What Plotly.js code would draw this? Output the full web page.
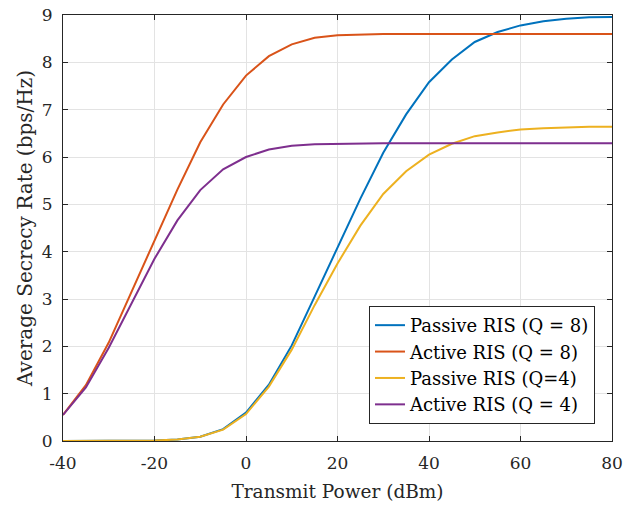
<!DOCTYPE html>
<html>
<head>
<meta charset="utf-8">
<script src="https://cdn.plot.ly/plotly-3.0.1.min.js"></script>
<style>html,body{margin:0;padding:0;background:#fff;}#chart{width:636px;height:508px;}</style>
</head>
<body>
<div id="chart"></div>
<script>
// Transmit power (dBm)
const power = [-40,-35,-30,-25,-20,-15,-10,-5,0,5,10,15,20,25,30,35,40,45,50,55,60,65,70,75,80];
// Average secrecy rate (bps/Hz)
const passiveQ8 = [0.0,0.0,0.0,0.0,0.01,0.03,0.09,0.25,0.6,1.19,2.02,3.05,4.07,5.12,6.09,6.9,7.58,8.06,8.43,8.64,8.78,8.87,8.92,8.95,8.96];
const activeQ8  = [0.55,1.18,2.08,3.15,4.22,5.31,6.31,7.11,7.72,8.13,8.38,8.52,8.57,8.59,8.6,8.6,8.6,8.6,8.6,8.6,8.6,8.6,8.6,8.6,8.6];
const passiveQ4 = [0.0,0.0,0.0,0.0,0.01,0.03,0.09,0.24,0.57,1.15,1.93,2.87,3.75,4.55,5.22,5.7,6.05,6.28,6.44,6.52,6.58,6.61,6.63,6.64,6.64];
const activeQ4  = [0.55,1.13,1.97,2.9,3.85,4.66,5.3,5.74,6.0,6.16,6.24,6.27,6.28,6.29,6.29,6.29,6.29,6.29,6.29,6.29,6.29,6.29,6.29,6.29,6.29];
const seriesNames = ['Passive RIS (Q = 8)','Active RIS (Q = 8)','Passive RIS (Q=4)','Active RIS (Q = 4)'];
const xTickVals = [-40,-20,0,20,40,60,80];
const xTickText = ['-40','-20','0','20','40','60','80'];
const yTickVals = [0,1,2,3,4,5,6,7,8,9];
const yTickText = ['0','1','2','3','4','5','6','7','8','9'];

const colors = ['#0072BD','#D95319','#EDB120','#7E2F8E'];
const ys = [passiveQ8, activeQ8, passiveQ4, activeQ4];
const traces = ys.map((y,i)=>({
  x: power, y: y, type:'scatter', mode:'lines', name: seriesNames[i],
  line:{color:colors[i], width:2}
}));

const font = 'DejaVu Serif';
const axisCommon = {
  showline:true, linecolor:'#262626', linewidth:1, mirror:'ticks',
  ticks:'inside', ticklen:5, tickcolor:'#262626', tickwidth:1,
  showgrid:true, gridcolor:'#e3e3e3', gridwidth:1, zeroline:false,
  tickfont:{family:font, size:17, color:'#262626'}
};
const layout = {
  width:636, height:508,
  font:{family:font},
  margin:{l:63, r:24, t:15, b:67},
  paper_bgcolor:'#fff', plot_bgcolor:'#fff',
  showlegend:true,
  xaxis: Object.assign({}, axisCommon, {
    range:[-40,80], tickmode:'array', tickvals:xTickVals, ticktext:xTickText,
    ticklabelstandoff:7,
    title:{text:'Transmit Power (dBm)', font:{family:font, size:18.5, color:'#262626'}, standoff:12}
  }),
  yaxis: Object.assign({}, axisCommon, {
    range:[0,9], tickmode:'array', tickvals:yTickVals, ticktext:yTickText,
    ticklabelstandoff:6,
    title:{text:'Average Secrecy Rate (bps/Hz)', font:{family:font, size:20, color:'#262626'}, standoff:3}
  }),
  legend:{
    x:0.969, xanchor:'right', y:0.04, yanchor:'bottom',
    bgcolor:'#fff', bordercolor:'#262626', borderwidth:1,
    font:{family:font, size:18, color:'#000'},
    tracegroupgap:0
  }
};
Plotly.newPlot('chart', traces, layout, {staticPlot:true, displayModeBar:false});
</script>
</body>
</html>
